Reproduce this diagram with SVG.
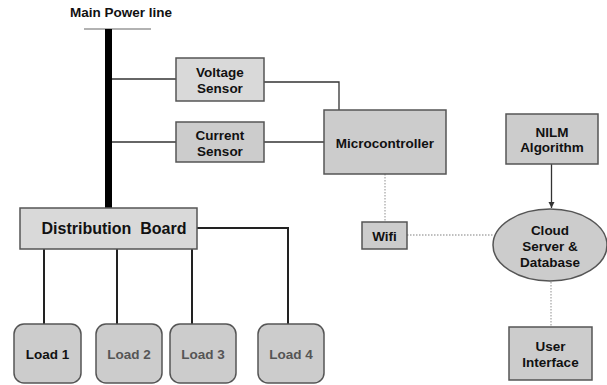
<svg xmlns="http://www.w3.org/2000/svg" width="607" height="385" viewBox="0 0 607 385">
<style>
text{font-family:"Liberation Sans",Arial,sans-serif;font-weight:bold;fill:#111;text-anchor:middle}
.t12{font-size:13.5px}
.t14{font-size:16px}
.box{fill:#cccccc;stroke:#555;stroke-width:1.5}
.box2{fill:#d9d9d9;stroke:#555;stroke-width:1.5}
.ln{stroke:#333;stroke-width:1.3;fill:none}
.lnb{stroke:#222;stroke-width:2;fill:none}
.dot{stroke:#aaa;stroke-width:1.3;stroke-dasharray:1.5 1.5;fill:none}
.gray{fill:#555}
</style>
<defs>
<marker id="arr" markerWidth="8" markerHeight="8" refX="6" refY="3" orient="auto" markerUnits="userSpaceOnUse">
<path d="M0,0 L6,3 L0,6 z" fill="#333"/>
</marker>
</defs>
<g id="connectors">
<line x1="84" y1="29" x2="151" y2="29" stroke="#999" stroke-width="1.3"/>
<line x1="108.5" y1="29" x2="108.5" y2="208" stroke="#000" stroke-width="7"/>
<line class="ln" x1="112" y1="79" x2="176" y2="79"/>
<line class="ln" x1="112" y1="142" x2="176" y2="142"/>
<polyline class="ln" points="264,82 339,82 339,110"/>
<line class="ln" x1="264" y1="142" x2="324" y2="142"/>
<line class="dot" x1="385" y1="174" x2="385" y2="222"/>
<line class="dot" x1="407" y1="235" x2="493" y2="235"/>
<line class="ln" x1="551.5" y1="164" x2="551.5" y2="208" marker-end="url(#arr)"/>
<line class="dot" x1="551" y1="282" x2="551" y2="327"/>
<line class="lnb" x1="44" y1="249" x2="44" y2="324"/>
<line class="lnb" x1="117" y1="249" x2="117" y2="324"/>
<line class="lnb" x1="192" y1="249" x2="192" y2="324"/>
<polyline class="lnb" points="197,228 288,228 288,324"/>
</g>
<g id="main-power-line"><text class="t12" x="121" y="17">Main Power line</text></g>
<g id="voltage-sensor"><rect class="box2" x="176" y="58" width="88" height="43"/><text class="t12" x="220" y="77">Voltage</text><text class="t12" x="220" y="93">Sensor</text></g>
<g id="current-sensor"><rect class="box" x="176" y="122" width="88" height="40"/><text class="t12" x="220" y="140">Current</text><text class="t12" x="220" y="156">Sensor</text></g>
<g id="microcontroller"><rect class="box" x="324" y="110" width="122" height="64"/><text class="t12" x="385" y="148">Microcontroller</text></g>
<g id="nilm"><rect class="box" x="506" y="114" width="92" height="50"/><text class="t12" x="552" y="137">NILM</text><text class="t12" x="552" y="152">Algorithm</text></g>
<g id="wifi"><rect class="box" x="362" y="222" width="45" height="27"/><text class="t12" x="384.5" y="241">Wifi</text></g>
<g id="cloud"><ellipse cx="550" cy="245" rx="57" ry="36" fill="#cccccc" stroke="#555" stroke-width="1.5"/><text class="t12" x="550" y="235">Cloud</text><text class="t12" x="550" y="251">Server &amp;</text><text class="t12" x="550" y="267">Database</text></g>
<g id="user-interface"><rect class="box" x="509" y="327" width="83" height="53"/><text class="t12" x="550.5" y="351">User</text><text class="t12" x="550.5" y="367">Interface</text></g>
<g id="distribution-board"><rect class="box2" x="20" y="208" width="177" height="41"/><text class="t14" x="114" y="234" xml:space="preserve">Distribution  Board</text></g>
<g id="load1"><rect class="box" x="14" y="324" width="67" height="59" rx="10"/><text class="t12" x="47.5" y="359">Load 1</text></g>
<g id="load2"><rect class="box" x="96" y="324" width="66" height="59" rx="10"/><text class="t12 gray" x="129" y="359">Load 2</text></g>
<g id="load3"><rect class="box" x="170" y="324" width="66" height="59" rx="10"/><text class="t12 gray" x="203" y="359">Load 3</text></g>
<g id="load4"><rect class="box" x="258" y="324" width="66" height="59" rx="10"/><text class="t12 gray" x="291" y="359">Load 4</text></g>
</svg>
